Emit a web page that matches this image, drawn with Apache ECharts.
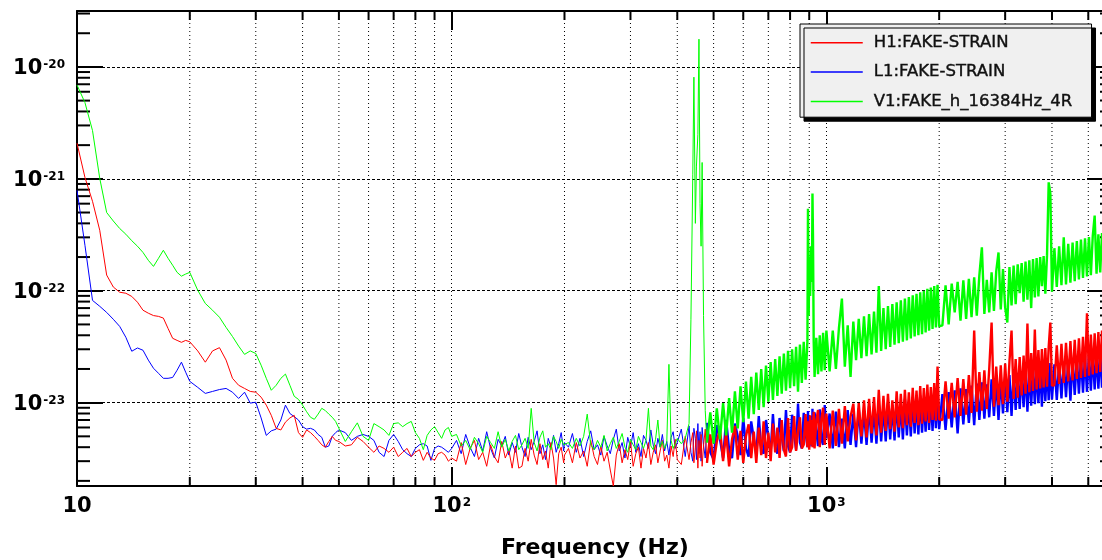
<!DOCTYPE html>
<html>
<head>
<meta charset="utf-8">
<script src="https://cdn.jsdelivr.net/npm/echarts@6/dist/echarts.min.js"></script>
<style>
html, body { margin: 0; padding: 0; background: #fff; }
#asd_chart { width: 1102px; height: 560px; }
</style>
</head>
<body>
<div id="asd_chart"></div>
<script>
// frequency bins (Hz)
var freqs = [
  10, 10.5, 11, 11.5, 12, 12.5, 13, 13.5, 14, 14.5, 15, 15.5, 16, 16.5, 17, 17.5, 18, 18.5, 19, 19.5, 20,
  21, 22, 23, 24, 25, 26, 27, 28, 29, 30, 31, 32, 33, 34, 35, 36, 37, 38, 39, 40, 41, 42, 43, 44, 45, 46, 47, 48, 49, 50,
  52, 54, 56, 58, 60, 62, 64, 66, 68, 70, 72, 74, 76, 78, 80, 82, 84, 86, 88, 90, 92, 94, 96, 98, 100,
  103, 106, 109, 112, 115, 118, 121, 124, 127, 130, 133, 136, 139, 142, 145, 148, 151, 154, 157, 160, 163, 166, 169, 172, 175, 178, 181, 184, 187, 190, 193, 196, 199, 200,
  205, 210, 215, 220, 225, 230, 235, 240, 245, 250, 255, 260, 265, 270, 275, 280, 285, 290, 295, 300, 305, 310, 315, 320, 325, 330, 335, 340, 345, 350, 355, 360, 365, 370, 375, 380, 385, 390, 395, 400,
  410, 420, 430, 435, 440, 443, 447, 450, 454, 457, 460, 463, 466, 470, 475, 480,
  490, 500, 510, 520, 530, 540, 550, 560, 570, 580, 590, 600, 610, 620, 630, 640, 650, 660, 670, 680, 690, 700, 710, 720, 730, 740, 750, 760, 770, 780, 790, 800, 810, 820, 830, 840, 850, 860, 870, 880,
  890, 893, 897, 900, 905, 910, 915, 918, 921, 925, 930, 940, 950, 960, 970, 980, 990, 1000,
  1020, 1040, 1060, 1080, 1100, 1120, 1140, 1160, 1180, 1200, 1220, 1240, 1260, 1280, 1300, 1320, 1340, 1360, 1380, 1400,
  1420, 1440, 1460, 1480, 1500, 1520, 1540, 1560, 1580, 1600, 1620, 1640, 1660, 1680, 1700, 1720, 1740, 1760, 1780, 1800,
  1820, 1840, 1860, 1880, 1900, 1920, 1940, 1960, 1980, 2000,
  2040, 2080, 2120, 2160, 2200, 2240, 2280, 2320, 2360, 2400, 2440, 2480, 2520, 2560, 2600, 2640, 2680, 2720, 2760, 2800,
  2840, 2880, 2920, 2960, 3000, 3040, 3080, 3120, 3160, 3200, 3240, 3280, 3320, 3360, 3400, 3440, 3480, 3520, 3560, 3600,
  3640, 3680, 3720, 3760, 3800, 3840, 3880, 3920, 3960, 4000,
  4060, 4120, 4180, 4240, 4300, 4360, 4420, 4480, 4540, 4600, 4660, 4720, 4780, 4840, 4900, 4960, 5020, 5080, 5140, 5200,
  5260, 5320, 5380, 5440, 5500, 5560, 5620, 5680, 5740, 5800
];

// amplitude spectral density, in units of 1e-24 /sqrt(Hz)
var h1Asd = [
  2080, 1030, 630, 347, 138, 108, 97, 95, 89, 79, 67, 63, 60, 59, 57, 46, 37.6, 36, 34.6, 36, 35,
  29, 23, 29, 31, 24, 16.5, 14.3, 13.4, 12.6, 12.4, 11.2, 9.5, 7.7, 5.9, 5.7, 6.7, 7.3, 7.7, 5.4, 4.9, 5.7, 5.4, 5.0, 4.6, 4.2, 4.0, 4.5, 5.0, 4.6, 4.5,
  4.1, 4.2, 4.9, 4.5, 4.0, 3.6, 4.1, 3.9, 3.6, 4.0, 3.3, 3.6, 3.9, 3.3, 3.6, 3.8, 3.05, 3.6, 3.2, 3.05, 3.5, 3.6, 3.4, 3.0, 3.2,
  3.0, 4.4, 2.8, 3.9, 4.6, 3.1, 3.6, 2.7, 4.2, 3.3, 2.9, 4.5, 3.2, 3.8, 2.6, 4.1, 2.6, 2.7, 3.9, 3.0, 4.7, 3.4, 2.8, 4.3, 3.1, 3.7, 2.6, 4.4, 3.2, 1.85, 3.5, 4.0, 2.9, 3.4,
  3.9, 2.9, 4.4, 3.2, 3.7, 2.7, 4.6, 3.3, 2.8, 4.1, 3.0, 3.6, 2.5, 1.8, 3.4, 4.3, 2.9, 3.8, 3.1, 4.5, 2.7, 3.5, 4.0, 2.6, 3.9, 3.2, 4.4, 2.8, 3.6, 4.2, 2.9, 3.7, 4.6, 3.0, 3.4, 2.6, 4.1, 3.3, 4.7, 3.1,
  2.8, 5.0, 3.1, 4.4, 5.4, 2.9, 4.0, 5.6, 2.6, 4.6, 3.2, 5.2, 2.7, 4.1, 5.8, 2.9,
  5.2, 2.8, 4.5, 5.9, 3.0, 5.4, 2.7, 4.7, 6.2, 3.1, 5.6, 2.9, 5.0, 6.4, 3.2, 5.5, 2.9, 6.0, 3.4, 6.8,
  3.2, 5.4, 3.0, 6.5, 3.6, 6.0, 3.2, 7.0, 3.8, 3.3, 7.3, 3.6, 4.0, 7.6, 3.7, 5.6, 7.4, 3.9, 4.2, 7.9,
  4.0, 6.8, 4.5, 3.8, 7.7, 4.2, 7.0, 4.0, 6.1, 8.3, 3.9, 6.9, 8.6, 4.0, 7.2, 9.0, 4.2, 8.0,
  3.9, 8.5, 4.1, 8.8, 4.3, 9.3, 4.5, 7.5, 9.8, 4.6, 9.9, 5.0, 10.5, 4.9, 10.8, 5.3, 11.2, 5.1, 13.0, 5.4,
  11.5, 5.6, 12.0, 5.8, 10.5, 5.5, 12.6, 6.0, 12.0, 5.9, 13.0, 6.3, 12.4, 6.1, 13.6, 6.6, 12.8, 6.3, 14.1, 6.5,
  13.5, 6.8, 14.5, 6.6, 13.8, 7.0, 15.0, 6.9, 21.0, 7.1,
  7.0, 15.5, 7.2, 15.0, 7.4, 16.6, 7.6, 16.2, 7.8, 17.6, 8.1, 44, 8.3, 18.8, 8.5, 19.4, 8.8, 20.0, 52, 9.2,
  21.0, 9.5, 21.6, 9.7, 22.4, 10.2, 23.2, 44, 10.8, 24.5, 11.1, 25.6, 11.6, 26.4, 12.0, 51, 12.4, 27.8, 12.7, 45,
  13.1, 29.5, 13.4, 30.2, 13.7, 30.8, 13.9, 31.5, 52, 14.2,
  14.3, 32.5, 14.7, 33.5, 15.0, 34.3, 15.5, 35.5, 15.8, 36.5, 16.3, 37.6, 16.6, 38.7, 17.0, 63, 17.4, 40.5, 17.9, 41.7,
  18.3, 42.8, 18.8, 44.0, 19.1, 45.2, 19.6, 46.3, 20.0, 47.0
];

var l1Asd = [
  790, 255, 82, 72.6, 64, 55.6, 48, 38.4, 28.8, 30.8, 29.4, 24, 20.3, 18.3, 16.5, 16.5, 16.8, 19.5, 23, 18.7, 15.5,
  13.7, 12.1, 12.6, 13.1, 13.4, 12.4, 10.9, 12.4, 9.9, 10.1, 7.3, 5.1, 5.6, 5.8, 7.0, 9.5, 8.0, 7.5, 7.0, 6.1, 5.8, 5.9, 5.7, 5.2, 4.9, 4.0, 4.1, 5.0, 5.4, 5.7,
  5.4, 4.6, 5.0, 5.2, 5.0, 4.6, 3.6, 3.3, 4.6, 5.2, 4.5, 3.8, 3.5, 3.3, 3.9, 4.2, 4.3, 4.1, 3.05, 3.9, 4.1, 4.0, 3.8, 3.6, 3.9,
  4.6, 3.5, 5.2, 4.0, 3.3, 4.8, 3.7, 5.5, 3.9, 3.2, 4.7, 4.1, 5.0, 3.4, 4.4, 3.6, 5.3, 4.0, 3.3, 4.9, 3.8, 4.5, 5.6, 3.5, 4.2, 3.1, 4.8, 4.0, 5.1, 3.6, 4.3, 5.4, 3.7, 4.4,
  4.0, 5.3, 3.6, 4.8, 3.3, 4.5, 5.6, 3.8, 4.2, 3.4, 5.0, 4.1, 3.5, 4.7, 5.8, 3.7, 4.4, 3.2, 4.9, 4.0, 5.4, 3.6, 4.3, 3.3, 5.1, 4.6, 3.9, 5.7, 4.2, 3.5, 4.8, 4.0, 5.2, 3.7, 4.5, 3.4, 4.9, 5.5, 3.9, 4.4,
  5.8, 3.3, 6.2, 3.6, 3.0, 5.9, 4.8, 3.1, 6.5, 3.5, 5.5, 3.0, 6.0, 4.2, 3.2, 6.6,
  3.6, 3.1, 6.3, 4.7, 3.2, 7.0, 3.8, 3.2, 6.5, 5.0, 3.4, 7.3, 3.9, 3.3, 6.8, 4.8, 3.4, 7.6, 3.8, 3.5,
  7.0, 4.9, 3.6, 7.9, 4.0, 3.5, 7.3, 5.0, 3.7, 8.6, 4.1, 3.6, 7.8, 5.2, 3.8, 9.8, 4.4, 3.9, 8.1, 5.4,
  4.0, 8.4, 4.6, 4.0, 7.6, 5.5, 4.1, 8.8, 4.5, 4.0, 8.2, 5.6, 4.1, 8.7, 4.7, 4.2, 9.5, 4.8,
  8.0, 3.9, 8.3, 4.0, 7.2, 3.9, 8.6, 4.2, 8.0, 4.0, 8.9, 4.3, 8.4, 4.2, 9.3, 4.4, 8.7, 4.3, 9.6, 4.5,
  9.1, 4.5, 10.0, 4.7, 9.5, 4.6, 10.4, 4.9, 9.8, 4.7, 10.8, 5.1, 10.2, 5.0, 11.2, 5.3, 10.6, 5.2, 11.6, 5.4,
  11.0, 5.5, 12.0, 5.7, 11.4, 5.6, 12.3, 5.9, 11.8, 5.8,
  11.9, 5.7, 12.4, 6.0, 12.9, 5.3, 13.4, 6.4, 13.2, 6.6, 14.2, 6.3, 14.8, 7.0, 15.2, 7.2, 14.6, 7.4, 16.2, 7.6,
  15.9, 7.0, 16.8, 8.0, 17.1, 8.2, 17.6, 7.6, 18.2, 8.6, 18.5, 8.8, 19.0, 9.1, 19.5, 8.3, 19.9, 9.4, 20.5, 9.7,
  20.8, 9.9, 21.4, 9.2, 21.8, 10.3, 22.1, 10.5, 22.6, 10.7,
  22.0, 10.6, 22.7, 10.9, 23.3, 11.2, 23.9, 10.4, 24.5, 11.7, 25.1, 12.0, 25.7, 12.3, 26.2, 12.5, 26.9, 12.8, 27.4, 13.1,
  28.0, 13.3, 28.6, 13.6, 29.2, 13.8, 29.8, 14.1, 30.3, 14.3
];

var v1Asd = [
  6900, 4800, 2700, 1010, 500, 420, 360, 320, 280, 250, 220, 187, 165, 195, 230, 195, 169, 146, 135, 141, 146,
  101, 77, 67, 58, 47, 39, 32, 27, 29, 27.5, 21.6, 16.5, 12.9, 14.3, 16.5, 18, 14.3, 11.4, 10.7, 9.5, 8.3, 7.4, 7.1, 7.9, 8.9, 8.5, 7.9, 7.4, 6.8, 5.9,
  4.5, 5.5, 6.6, 5.0, 4.6, 6.5, 6.1, 5.7, 5.1, 6.5, 6.6, 6.1, 6.5, 6.8, 5.4, 4.8, 3.8, 5.1, 5.7, 6.1, 5.4, 4.8, 5.7, 6.0, 5.0,
  5.2, 4.1, 4.6, 3.8, 4.9, 4.3, 3.6, 5.0, 4.4, 3.9, 5.5, 4.0, 4.7, 3.7, 4.5, 5.1, 3.8, 4.2, 4.8, 3.9, 8.9, 4.4, 3.7, 4.9, 5.6, 4.0, 4.3, 3.8, 5.0, 4.5, 3.9, 4.7, 4.2, 4.1,
  4.4, 3.9, 4.8, 4.1, 5.0, 7.9, 4.2, 3.8, 4.6, 4.0, 5.1, 3.7, 4.3, 4.9, 3.9, 4.5, 5.3, 4.0, 3.6, 4.7, 4.2, 3.8, 5.0, 4.4, 3.9, 4.6, 8.9, 4.1, 3.8, 4.7, 7.0, 4.0, 4.5, 3.9, 4.4, 22, 4.6, 3.9, 4.3, 4.8,
  4.3, 4.8, 6.5, 55, 1100, 8100, 400, 1300, 2500, 17700, 600, 250, 1400, 60, 8.5, 4.4,
  8.2, 4.3, 8.9, 4.7, 9.9, 5.1, 11.0, 5.4, 12.6, 5.9, 14.0, 6.7, 15.4, 7.2, 17.0, 7.9, 18.6, 8.6, 20.0, 9.1,
  21.5, 10.2, 23.0, 10.6, 24.5, 11.5, 26.0, 12.0, 27.5, 12.8, 29.0, 13.5, 30.0, 14.0, 31.5, 12.5, 33.0, 15.0, 35.0, 16.0,
  36, 540, 60, 200, 90, 250, 120, 740, 300, 35, 17, 38, 18, 40, 19, 42, 19.5, 44,
  19, 44, 20, 46, 85, 21, 49, 17, 53, 24, 56, 25, 59, 26, 62, 27, 65, 28, 110, 29,
  70, 30, 73, 31.5, 76, 33, 79, 34, 82, 35, 85, 36, 88, 37.5, 91, 39, 94, 40, 97, 41,
  100, 42.5, 104, 44, 107, 45.5, 110, 47, 113, 48,
  49, 112, 50, 116, 64, 120, 54, 124, 56, 128, 58, 132, 60, 137, 244, 62, 125, 64, 146, 66,
  150, 220, 68, 156, 71, 52, 163, 74, 168, 76, 172, 95, 177, 80, 182, 83, 187, 70, 192, 87,
  196, 89, 200, 110, 204, 94, 208, 930, 740, 98,
  240, 108, 250, 112, 300, 114, 262, 118, 270, 122, 278, 126, 286, 130, 294, 134, 302, 138, 310, 470,
  142, 320, 146, 328, 150, 336, 154, 344, 158, 352
];

var seriesNames = ["H1:FAKE-STRAIN", "L1:FAKE-STRAIN", "V1:FAKE_h_16384Hz_4R"];

// log axis decorations
var xMinorTicks = [20, 30, 40, 50, 60, 70, 80, 90, 200, 300, 400, 500, 600, 700, 800, 900, 2000, 3000, 4000, 5000];
var yMinorTicks = [2, 3, 4, 5, 6, 7, 8, 9, 20, 30, 40, 50, 60, 70, 80, 90, 200, 300, 400, 500, 600, 700, 800, 900,
  2000, 3000, 4000, 5000, 6000, 7000, 8000, 9000, 20000, 30000];
var X_MIN = 10, X_MAX = 5820;
var Y_MIN = 1.8, Y_MAX = 31600;
var DENSE_FROM = 480; // above this the spectra are drawn as a dense band

[h1Asd, l1Asd, v1Asd].forEach(function (arr, i) {
  if (arr.length !== freqs.length) {
    throw new Error(seriesNames[i] + " has " + arr.length + " values, freqs has " + freqs.length);
  }
});

function pairs(vals) {
  return freqs.map(function (f, i) { return [f, vals[i]]; });
}

// only label whole decades, 10^n with superscript
function decadeLabel(value, shift) {
  var e = Math.log10(value);
  var k = Math.round(e);
  if (Math.abs(e - k) > 1e-6) return "";
  k += shift;
  return k === 1 ? "{b|10}" : "{b|10}{s|" + k + "}";
}

var labelRich = {
  b: { fontFamily: "DejaVu Sans", fontWeight: "bold", fontSize: 21, lineHeight: 22, padding: [4, 0, 0, 0], color: "#000" },
  s: { fontFamily: "DejaVu Sans", fontWeight: "bold", fontSize: 12, lineHeight: 12, verticalAlign: "top", color: "#000", padding: [3, 0, 0, 1] }
};

var frameLine = { show: true, onZero: false, lineStyle: { color: "#000", width: 2 } };

var asd_chart = echarts.init(document.getElementById("asd_chart"));

// each spectrum is two line series with the same name: thin low part, thicker dense part
function spectrumSeries(name, vals, color, z) {
  var all = pairs(vals);
  var cut = freqs.indexOf(DENSE_FROM);
  var base = {
    name: name,
    type: "line",
    symbol: "none",
    showSymbol: false,
    silent: true,
    z: z,
    itemStyle: { color: color },
    emphasis: { disabled: true }
  };
  var low = Object.assign({}, base, { data: all.slice(0, cut + 1), lineStyle: { color: color, width: 1 } });
  var high = Object.assign({}, base, { data: all.slice(cut), lineStyle: { color: color, width: 2.4 } });
  return [low, high];
}

var option = {
  animation: false,
  backgroundColor: "#fff",
  grid: { left: 77, top: 11, right: -11, bottom: 74, containLabel: false, outerBoundsMode: "none" },
  legend: {
    orient: "vertical",
    left: 800,
    top: 24,
    data: seriesNames,
    selectedMode: false,
    itemWidth: 52,
    itemHeight: 16,
    itemGap: 12,
    padding: [10, 19, 7, 10],
    backgroundColor: "#f0f0f0",
    borderColor: "#000",
    borderWidth: 1,
    shadowColor: "#000",
    shadowBlur: 0,
    shadowOffsetX: 4,
    shadowOffsetY: 4,
    itemStyle: { opacity: 0 },
    lineStyle: { width: 1.5 },
    textStyle: {
      fontFamily: "DejaVu Sans", fontSize: 16.5, color: "#111", padding: [0, 0, 0, 6],
      textBorderColor: "#111", textBorderWidth: 0.4
    }
  },
  xAxis: [
    {
      type: "log",
      logBase: 10,
      min: X_MIN,
      max: X_MAX,
      position: "bottom",
      name: "Frequency (Hz)",
      nameLocation: "middle",
      nameGap: 51,
      nameTextStyle: { fontFamily: "DejaVu Sans", fontWeight: "bold", fontSize: 22, color: "#000" },
      axisLine: frameLine,
      axisTick: { show: true, inside: true, length: 19, lineStyle: { color: "#000", width: 2 } },
      axisLabel: {
        margin: 8,
        formatter: function (v) { return decadeLabel(v, 0); },
        rich: labelRich
      },
      splitLine: { show: true, lineStyle: { color: "#000", width: 1, type: [1, 3] } }
    },
    {
      type: "log",
      logBase: 10,
      min: X_MIN,
      max: X_MAX,
      position: "top",
      axisLine: frameLine,
      axisTick: { show: true, inside: true, length: 19, lineStyle: { color: "#000", width: 2 } },
      axisLabel: { show: false },
      splitLine: { show: false }
    }
  ],
  yAxis: [
    {
      type: "log",
      logBase: 10,
      min: Y_MIN,
      max: Y_MAX,
      position: "left",
      axisLine: frameLine,
      axisTick: { show: true, inside: true, length: 26, lineStyle: { color: "#000", width: 2 } },
      axisLabel: {
        margin: 12,
        formatter: function (v) { return decadeLabel(v, -24); },
        rich: labelRich
      },
      splitLine: { show: true, lineStyle: { color: "#000", width: 1, type: [3, 2] } }
    },
    {
      type: "log",
      logBase: 10,
      min: Y_MIN,
      max: Y_MAX,
      position: "right",
      axisLine: frameLine,
      axisTick: { show: true, inside: true, length: 26, lineStyle: { color: "#000", width: 2 } },
      axisLabel: { show: false },
      splitLine: { show: false }
    }
  ],
  series: [
    {
      // minor x grid lines and ticks at 2..9 x 10^n
      type: "custom",
      name: "xMinor",
      silent: true,
      z: 1,
      data: xMinorTicks.map(function (f) { return [f, Y_MIN]; }),
      renderItem: function (params, api) {
        var cs = params.coordSys;
        var x = api.coord([api.value(0), Y_MIN])[0];
        var top = cs.y, bottom = cs.y + cs.height;
        return {
          type: "group",
          children: [
            { type: "line", shape: { x1: x, y1: top, x2: x, y2: bottom }, style: { stroke: "#000", lineWidth: 1, lineDash: [1, 3] } },
            { type: "line", shape: { x1: x, y1: bottom, x2: x, y2: bottom - 9 }, style: { stroke: "#000", lineWidth: 2 } },
            { type: "line", shape: { x1: x, y1: top, x2: x, y2: top + 9 }, style: { stroke: "#000", lineWidth: 2 } }
          ]
        };
      }
    },
    {
      type: "custom",
      name: "yMinor",
      silent: true,
      z: 1,
      data: yMinorTicks.map(function (v) { return [X_MIN, v]; }),
      renderItem: function (params, api) {
        var cs = params.coordSys;
        var y = api.coord([X_MIN, api.value(1)])[1];
        var left = cs.x, right = cs.x + cs.width;
        return {
          type: "group",
          children: [
            { type: "line", shape: { x1: left, y1: y, x2: left + 13, y2: y }, style: { stroke: "#000", lineWidth: 2 } },
            { type: "line", shape: { x1: right, y1: y, x2: right - 13, y2: y }, style: { stroke: "#000", lineWidth: 2 } }
          ]
        };
      }
    }
  ].concat(
    spectrumSeries(seriesNames[1], l1Asd, "#0000ff", 2),
    spectrumSeries(seriesNames[0], h1Asd, "#ff0000", 3),
    spectrumSeries(seriesNames[2], v1Asd, "#00ff00", 4)
  )
};

asd_chart.setOption(option);
</script>
</body>
</html>
